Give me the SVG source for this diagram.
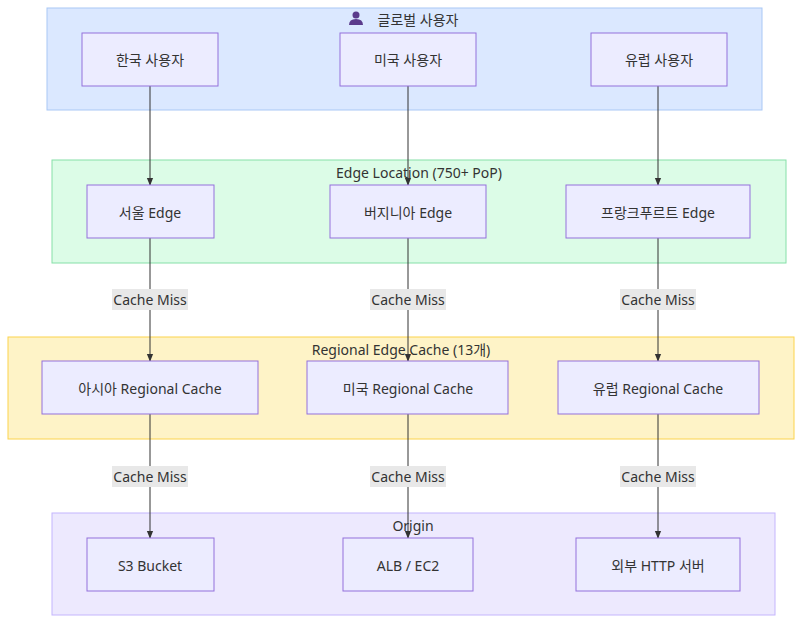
<svg xmlns="http://www.w3.org/2000/svg" width="810" height="630" viewBox="0 0 810 630">
<style>
text{font-family:"Noto Sans","Noto Sans CJK KR",sans-serif;font-size:14px;fill:#333;text-anchor:middle;dominant-baseline:central}
.n{fill:#ececff;stroke:#9370db;stroke-width:1}
.e{stroke:#333;stroke-width:1;fill:none;marker-end:url(#a)}
.lb{fill:#e8e8e8}
</style>
<defs><marker id="a" viewBox="0 0 10 10" refX="9" refY="5" markerWidth="8" markerHeight="8" orient="auto"><path d="M0,1 L10,5 L0,9z" fill="#333"/></marker></defs>
<rect width="810" height="630" fill="#fff"/>
<g id="c1"><rect x="47" y="8" width="715" height="102" fill="#dbe8ff" stroke="#a9c8f5"/><g fill="#5b3b8c"><circle cx="356" cy="15" r="3.5"/><path d="M349,25 q0,-6 7,-6 q7,0 7,6z"/></g><text x="418" y="19">글로벌 사용자</text></g>
<g id="c2"><rect x="52" y="160" width="734" height="103" fill="#dcfce7" stroke="#86e0a8"/><text x="419" y="172">Edge Location (750+ PoP)</text></g>
<g id="c3"><rect x="8" y="337" width="786" height="102" fill="#fef3c7" stroke="#fcd34d"/><text x="401" y="349">Regional Edge Cache (13개)</text></g>
<g id="c4"><rect x="52" y="513" width="723" height="102" fill="#ede9fe" stroke="#c4b5fd"/><text x="413" y="525">Origin</text></g>
<g id="edges">
<path class="e" d="M150,86V185"/><path class="e" d="M408,86V185"/><path class="e" d="M658,86V185"/>
<path class="e" d="M150,238V361"/><path class="e" d="M408,238V361"/><path class="e" d="M658,238V361"/>
<path class="e" d="M150,414V538"/><path class="e" d="M408,414V538"/><path class="e" d="M658,414V538"/>
<g><rect class="lb" x="112" y="289" width="76" height="21"/><text x="150" y="299">Cache Miss</text></g>
<g><rect class="lb" x="370" y="289" width="76" height="21"/><text x="408" y="299">Cache Miss</text></g>
<g><rect class="lb" x="620" y="289" width="76" height="21"/><text x="658" y="299">Cache Miss</text></g>
<g><rect class="lb" x="112" y="466" width="76" height="21"/><text x="150" y="476">Cache Miss</text></g>
<g><rect class="lb" x="370" y="466" width="76" height="21"/><text x="408" y="476">Cache Miss</text></g>
<g><rect class="lb" x="620" y="466" width="76" height="21"/><text x="658" y="476">Cache Miss</text></g>
</g>
<g id="n1"><rect class="n" x="82" y="33" width="136" height="53"/><text x="150" y="59">한국 사용자</text></g>
<g id="n2"><rect class="n" x="340" y="33" width="136" height="53"/><text x="408" y="59">미국 사용자</text></g>
<g id="n3"><rect class="n" x="591" y="33" width="136" height="53"/><text x="659" y="59">유럽 사용자</text></g>
<g id="n4"><rect class="n" x="87" y="185" width="127" height="53"/><text x="150" y="212">서울 Edge</text></g>
<g id="n5"><rect class="n" x="330" y="185" width="156" height="53"/><text x="408" y="212">버지니아 Edge</text></g>
<g id="n6"><rect class="n" x="566" y="185" width="184" height="53"/><text x="658" y="212">프랑크푸르트 Edge</text></g>
<g id="n7"><rect class="n" x="42" y="361" width="216" height="53"/><text x="150" y="388">아시아 Regional Cache</text></g>
<g id="n8"><rect class="n" x="307" y="361" width="201" height="53"/><text x="408" y="388">미국 Regional Cache</text></g>
<g id="n9"><rect class="n" x="558" y="361" width="201" height="53"/><text x="658" y="388">유럽 Regional Cache</text></g>
<g id="n10"><rect class="n" x="87" y="538" width="127" height="53"/><text x="150" y="565">S3 Bucket</text></g>
<g id="n11"><rect class="n" x="343" y="538" width="130" height="53"/><text x="408" y="565">ALB / EC2</text></g>
<g id="n12"><rect class="n" x="576" y="538" width="164" height="53"/><text x="658" y="565">외부 HTTP 서버</text></g>
</svg>
